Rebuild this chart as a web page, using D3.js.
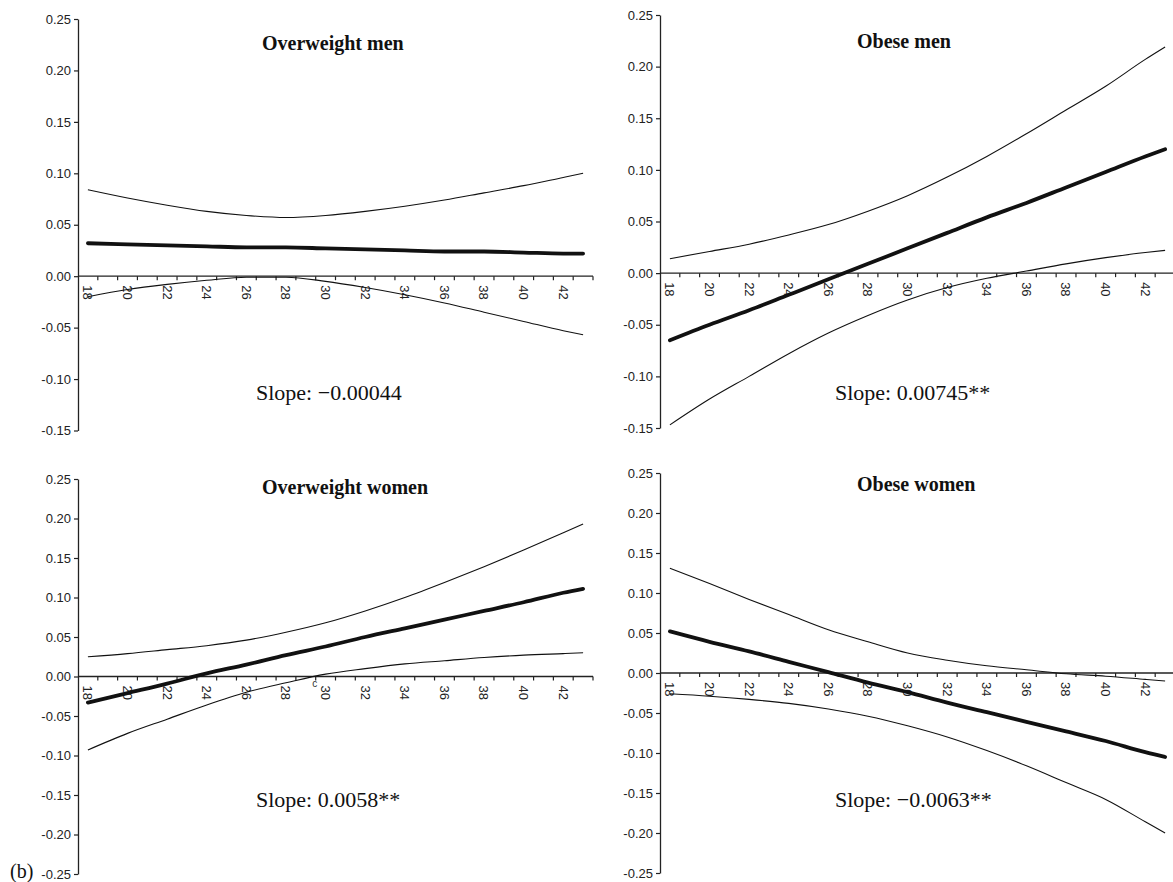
<!DOCTYPE html>
<html>
<head>
<meta charset="utf-8">
<script src="https://cdn.jsdelivr.net/npm/d3@7"></script>
<style>
  body { margin: 0; background: #fff; }
  svg { display: block; }
</style>
</head>
<body>
<script>
  // BMI categories on the x axis, labels every second one
  var categories = d3.range(18, 44);
  var tickLabels = [18, 20, 22, 24, 26, 28, 30, 32, 34, 36, 38, 40, 42];
  var yTicksTop = [0.25, 0.20, 0.15, 0.10, 0.05, 0.00, -0.05, -0.10, -0.15];
  var yTicksBottom = [0.25, 0.20, 0.15, 0.10, 0.05, 0.00, -0.05, -0.10, -0.15, -0.20, -0.25];

  var bmi = [18, 20, 22, 24, 26, 28, 30, 32, 34, 36, 38, 40, 42, 43];

  var titles = ['Overweight men', 'Obese men', 'Overweight women', 'Obese women'];
  var slopes = ['Slope: \u22120.00044', 'Slope: 0.00745**', 'Slope: 0.0058**', 'Slope: \u22120.0063**'];

  // Overweight men
  var owMenEst = [0.032, 0.031, 0.030, 0.029, 0.028, 0.028, 0.027, 0.026, 0.025, 0.024, 0.024, 0.023, 0.022, 0.022];
  var owMenHi  = [0.084, 0.076, 0.069, 0.063, 0.059, 0.057, 0.059, 0.063, 0.068, 0.074, 0.081, 0.088, 0.096, 0.100];
  var owMenLo  = [-0.020, -0.013, -0.008, -0.004, -0.001, -0.001, -0.005, -0.011, -0.018, -0.026, -0.035, -0.044, -0.053, -0.057];

  // Obese men
  var obMenEst = [-0.065, -0.050, -0.036, -0.021, -0.006, 0.009, 0.024, 0.039, 0.054, 0.068, 0.083, 0.098, 0.113, 0.120];
  var obMenHi  = [0.014, 0.021, 0.028, 0.037, 0.047, 0.060, 0.075, 0.093, 0.113, 0.135, 0.158, 0.181, 0.207, 0.219];
  var obMenLo  = [-0.147, -0.122, -0.100, -0.078, -0.058, -0.041, -0.026, -0.014, -0.005, 0.002, 0.009, 0.015, 0.020, 0.022];

  // Overweight women
  var owWomEst = [-0.033, -0.021, -0.009, 0.004, 0.015, 0.027, 0.038, 0.050, 0.061, 0.072, 0.083, 0.094, 0.106, 0.111];
  var owWomHi  = [0.025, 0.029, 0.034, 0.039, 0.046, 0.056, 0.068, 0.083, 0.100, 0.119, 0.139, 0.160, 0.182, 0.193];
  var owWomLo  = [-0.093, -0.072, -0.054, -0.036, -0.020, -0.008, 0.003, 0.010, 0.016, 0.020, 0.024, 0.027, 0.029, 0.030];

  // Obese women
  var obWomEst = [0.052, 0.039, 0.027, 0.014, 0.001, -0.012, -0.024, -0.037, -0.049, -0.061, -0.073, -0.085, -0.099, -0.105];
  var obWomHi  = [0.131, 0.112, 0.092, 0.073, 0.054, 0.039, 0.025, 0.016, 0.009, 0.004, -0.001, -0.004, -0.008, -0.010];
  var obWomLo  = [-0.026, -0.029, -0.033, -0.038, -0.045, -0.054, -0.066, -0.080, -0.097, -0.116, -0.137, -0.158, -0.186, -0.200];

  var w = 1173;
  var h = 882;

  var svg = d3.select('body')
    .append('svg')
    .attr('width', w)
    .attr('height', h);

  svg.append('rect').attr('width', w).attr('height', h).attr('fill', '#fff');

  // panel placement
  var panels = [
    { left: 78,  right: 593,  yTop: 19,  yBot: 430.5, domain: [-0.15, 0.25], ticks: yTicksTop,
      titleX: 262, titleY: 50,  slopeX: 256, slopeY: 400, est: owMenEst, hi: owMenHi, lo: owMenLo },
    { left: 660, right: 1175, yTop: 15,  yBot: 428,   domain: [-0.15, 0.25], ticks: yTicksTop,
      titleX: 857, titleY: 48,  slopeX: 835, slopeY: 400, est: obMenEst, hi: obMenHi, lo: obMenLo },
    { left: 78,  right: 593,  yTop: 479, yBot: 874,   domain: [-0.25, 0.25], ticks: yTicksBottom,
      titleX: 262, titleY: 494, slopeX: 256, slopeY: 807, est: owWomEst, hi: owWomHi, lo: owWomLo },
    { left: 660, right: 1175, yTop: 473, yBot: 873,   domain: [-0.25, 0.25], ticks: yTicksBottom,
      titleX: 857, titleY: 491, slopeX: 835, slopeY: 807, est: obWomEst, hi: obWomHi, lo: obWomLo }
  ];

  panels.forEach(function(p, i) {
    var x = d3.scalePoint()
      .domain(categories)
      .range([p.left, p.right])
      .padding(0.5);
    var step = x.step();

    var y = d3.scaleLinear()
      .domain(p.domain)
      .range([p.yBot, p.yTop]);

    var g = svg.append('g');

    // y axis
    var yAxis = d3.axisLeft(y)
      .tickValues(p.ticks)
      .tickFormat(function(d) { return d.toFixed(2); })
      .tickSize(4)
      .tickSizeOuter(0)
      .tickPadding(3);

    g.append('g')
      .attr('transform', 'translate(' + p.left + ',0)')
      .call(yAxis)
      .call(function(a) {
        a.select('.domain').attr('stroke', '#222').attr('stroke-width', 1.3);
        a.selectAll('.tick line').attr('stroke', '#222').attr('stroke-width', 1.2);
        a.selectAll('text')
          .attr('font-family', 'Liberation Sans, Arial, sans-serif')
          .attr('font-size', '13px')
          .attr('fill', '#222');
      });

    // x axis on zero line, ticks between categories
    var y0 = y(0);
    var bounds = categories.map(function(c) { return x(c) - step / 2; });
    bounds.push(x(categories[categories.length - 1]) + step / 2);

    g.append('line')
      .attr('x1', p.left).attr('x2', Math.min(p.right, w))
      .attr('y1', y0).attr('y2', y0)
      .attr('stroke', '#222')
      .attr('stroke-width', 1.3);

    g.selectAll('line.xtick')
      .data(bounds.slice(1))
      .enter()
      .append('line')
      .attr('class', 'xtick')
      .attr('x1', function(d) { return d; })
      .attr('x2', function(d) { return d; })
      .attr('y1', y0)
      .attr('y2', y0 + 4)
      .attr('stroke', '#222')
      .attr('stroke-width', 1.2);

    g.selectAll('text.xlab')
      .data(tickLabels)
      .enter()
      .append('text')
      .attr('class', 'xlab')
      .attr('transform', function(d) {
        return 'translate(' + x(d) + ',' + (y0 + 9) + ') rotate(90)';
      })
      .attr('dy', '0.35em')
      .attr('text-anchor', 'start')
      .attr('font-family', 'Liberation Sans, Arial, sans-serif')
      .attr('font-size', '13px')
      .attr('fill', '#222')
      .text(function(d) { return d; });

    // curves
    var line = d3.line()
      .x(function(d, j) { return x(bmi[j]); })
      .y(function(d) { return y(d); })
      .curve(d3.curveMonotoneX);

    [p.hi, p.lo].forEach(function(s) {
      g.append('path')
        .datum(s)
        .attr('d', line)
        .attr('fill', 'none')
        .attr('stroke', '#111')
        .attr('stroke-width', 1.1);
    });

    g.append('path')
      .datum(p.est)
      .attr('d', line)
      .attr('fill', 'none')
      .attr('stroke', '#111')
      .attr('stroke-width', 3.8)
      .attr('stroke-linecap', 'round');

    // title and slope
    g.append('text')
      .attr('x', p.titleX)
      .attr('y', p.titleY)
      .attr('font-family', 'Liberation Serif, Times New Roman, serif')
      .attr('font-weight', 'bold')
      .attr('font-size', '20px')
      .attr('fill', '#111')
      .text(titles[i]);

    g.append('text')
      .attr('x', p.slopeX)
      .attr('y', p.slopeY)
      .attr('font-family', 'Liberation Serif, Times New Roman, serif')
      .attr('font-size', '22px')
      .attr('fill', '#111')
      .text(slopes[i]);

    // stray mark in the overweight women panel
    if (i === 2) {
      g.append('text')
        .attr('x', x(29) + step * 0.45)
        .attr('y', y0 + 10)
        .attr('text-anchor', 'middle')
        .attr('font-family', 'Liberation Sans, Arial, sans-serif')
        .attr('font-size', '10px')
        .attr('fill', '#333')
        .text('c');
    }
  });

  svg.append('text')
    .attr('x', 10)
    .attr('y', 878)
    .attr('font-family', 'Liberation Serif, Times New Roman, serif')
    .attr('font-size', '20px')
    .attr('fill', '#111')
    .text('(b)');
</script>
</body>
</html>
